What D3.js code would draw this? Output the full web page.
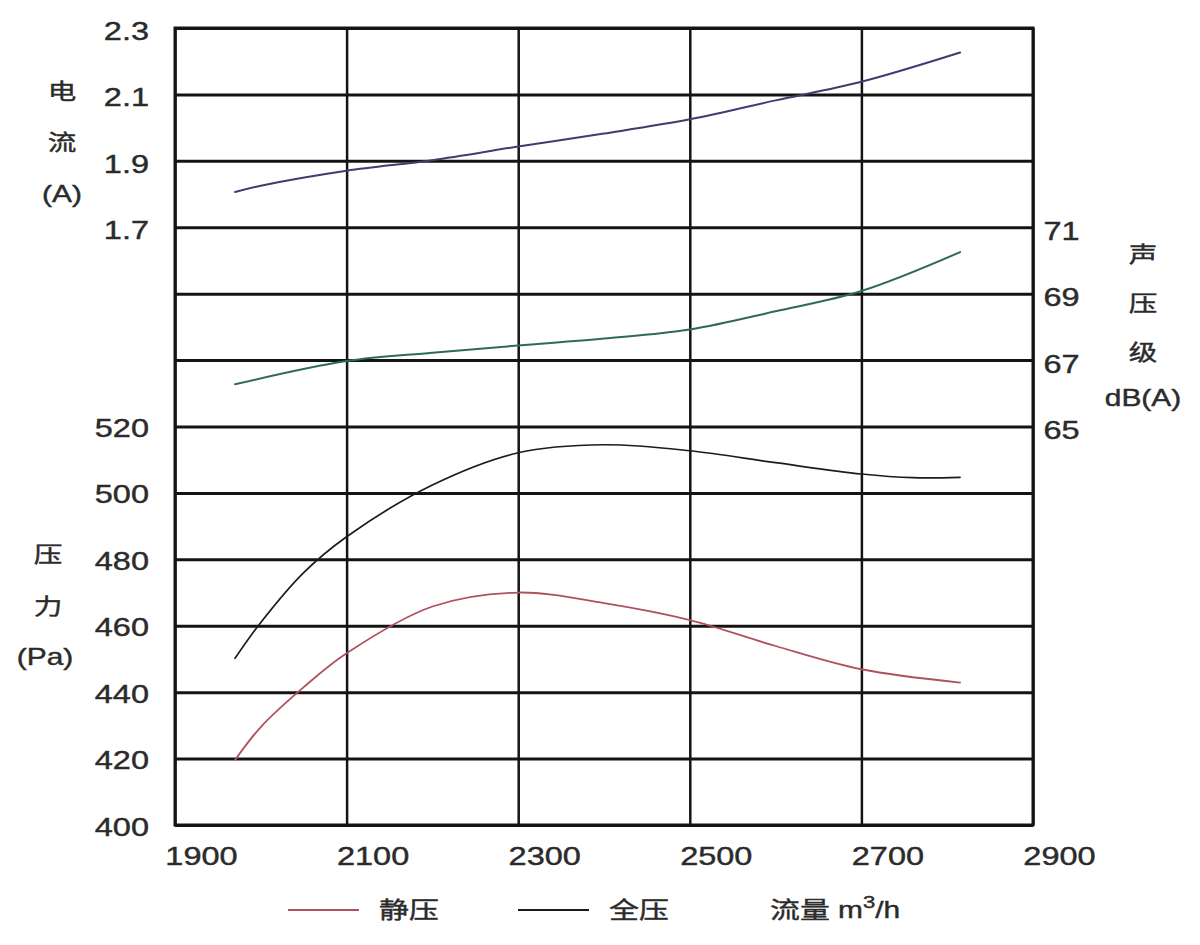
<!DOCTYPE html>
<html>
<head>
<meta charset="utf-8">
<script src="https://cdn.jsdelivr.net/npm/d3@7"></script>
<style>
  body { margin: 0; background: #fff; }
  svg { display: block; }
  text { font-family: "Liberation Sans", Arial, "Noto Sans CJK SC", sans-serif; fill: #2b2b2b; stroke: #2b2b2b; stroke-width: 0.4px; }
</style>
</head>
<body>
<svg id="chart" width="1200" height="945"></svg>
<script>
// axis ticks
var flowTicks = [1900, 2100, 2300, 2500, 2700, 2900];
var pressureTicks = [400, 420, 440, 460, 480, 500, 520];
var currentTicks = [1.7, 1.9, 2.1, 2.3];
var soundTicks = [65, 67, 69, 71];
var gridValues = [400, 420, 440, 460, 480, 500, 520, 540, 560, 580, 600, 620, 640];

// curves
var currentFlow = [1970, 2000, 2100, 2200, 2300, 2400, 2500, 2600, 2700, 2815];
var currentAmp  = [1.806, 1.825, 1.870, 1.902, 1.943, 1.982, 2.025, 2.082, 2.138, 2.226];

var soundFlow = [1970, 2100, 2200, 2300, 2400, 2500, 2600, 2700, 2815];
var soundDb   = [66.27, 66.97, 67.22, 67.44, 67.65, 67.92, 68.47, 69.08, 70.25];

var fullFlow = [1970, 2000, 2050, 2100, 2200, 2300, 2400, 2500, 2600, 2700, 2760, 2815];
var fullPa   = [450.2, 461, 476, 486.8, 502.4, 512.1, 514.5, 512.7, 509.1, 505.7, 504.6, 504.7];

var staticFlow = [1970, 2000, 2050, 2100, 2200, 2300, 2400, 2500, 2600, 2700, 2815];
var staticPa   = [419.6, 429.5, 441.5, 451.7, 465.8, 470.0, 466.8, 461.7, 453.9, 446.9, 442.9];

var plotL = 175, plotR = 1033, plotT = 28, plotB = 825;
var sx = 1.3; // the lettering is wide

var svg = d3.select("#chart");

var x = d3.scaleLinear().domain([1900, 2900]).range([plotL, plotR]);
var yP = d3.scaleLinear().domain([400, 640]).range([plotB, plotT]);
var yI = d3.scaleLinear().domain([1.7, 2.3]).range([yP(580), yP(640)]);
var yS = d3.scaleLinear().domain([65, 71]).range([yP(520), yP(580)]);

// horizontal grid
svg.append("g")
  .attr("transform", "translate(" + plotL + ",0)")
  .call(d3.axisLeft(yP).tickValues(gridValues).tickSize(-(plotR - plotL)).tickFormat(""))
  .call(function(g){
    g.select(".domain").remove();
    g.selectAll("line").attr("stroke", "#141414").attr("stroke-width", 3);
  });

// vertical grid
svg.append("g")
  .attr("transform", "translate(0," + plotB + ")")
  .call(d3.axisBottom(x).tickValues(flowTicks).tickSize(-(plotB - plotT)).tickFormat(""))
  .call(function(g){
    g.select(".domain").remove();
    g.selectAll("line").attr("stroke", "#141414").attr("stroke-width", 2.5);
  });

svg.append("rect")
  .attr("x", plotL).attr("y", plotT)
  .attr("width", plotR - plotL).attr("height", plotB - plotT)
  .attr("fill", "none").attr("stroke", "#141414").attr("stroke-width", 3);

function styleLabels(g, fn) {
  g.select(".domain").remove();
  g.selectAll(".tick line").remove();
  g.selectAll(".tick text")
    .attr("font-size", 25)
    .attr("fill", "#2b2b2b")
    .attr("font-family", "Liberation Sans, Arial, sans-serif")
    .attr("transform", "scale(" + sx + ",1)");
  if (fn) fn(g);
}

// left labels: pressure and current
svg.append("g")
  .attr("transform", "translate(" + plotL + ",0)")
  .call(d3.axisLeft(yP).tickValues(pressureTicks).tickFormat(d3.format("d")))
  .call(styleLabels, function(g){ g.selectAll("text").attr("x", -20).attr("dy", "0.4em"); });

svg.append("g")
  .attr("transform", "translate(" + plotL + ",0)")
  .call(d3.axisLeft(yI).tickValues(currentTicks).tickFormat(d3.format(".1f")))
  .call(styleLabels, function(g){ g.selectAll("text").attr("x", -20).attr("dy", "0.45em"); });

// right labels: sound level
svg.append("g")
  .attr("transform", "translate(" + plotR + ",0)")
  .call(d3.axisRight(yS).tickValues(soundTicks).tickFormat(d3.format("d")))
  .call(styleLabels, function(g){ g.selectAll("text").attr("x", 8).attr("dy", "0.48em"); });

// bottom labels: flow
svg.append("g")
  .attr("transform", "translate(0," + plotB + ")")
  .call(d3.axisBottom(x).tickValues(flowTicks).tickFormat(d3.format("d")))
  .call(styleLabels, function(g){ g.selectAll("text").attr("x", 20).attr("y", 22); });

// curves
function drawCurve(xs, ys, yScale, color, width) {
  var pts = xs.map(function(d, i){ return [d, ys[i]]; });
  var line = d3.line()
    .x(function(d){ return x(d[0]); })
    .y(function(d){ return yScale(d[1]); })
    .curve(d3.curveCatmullRom.alpha(0.5));
  svg.append("path")
    .datum(pts)
    .attr("d", line)
    .attr("fill", "none")
    .attr("stroke", color)
    .attr("stroke-width", width)
    .attr("stroke-linecap", "round");
}

drawCurve(currentFlow, currentAmp, yI, "#3d3d6f", 2);
drawCurve(soundFlow, soundDb, yS, "#2f6a57", 2);
drawCurve(fullFlow, fullPa, yP, "#1c1c1c", 1.7);
drawCurve(staticFlow, staticPa, yP, "#b0505f", 1.8);

// titles
function label(px, py, str, size, anchor) {
  return svg.append("text")
    .attr("transform", "translate(" + px + "," + py + ") scale(" + sx + ",1)")
    .attr("text-anchor", anchor || "middle")
    .attr("dominant-baseline", "central")
    .attr("font-size", size)
    .text(str);
}

label(62, 91, "电", 22);
label(62, 142, "流", 22);
label(62, 194, "(A)", 23);

label(48, 554, "压", 22);
label(48, 606, "力", 22);
label(45, 657, "(Pa)", 23);

label(1143, 254, "声", 22);
label(1143, 303, "压", 22);
label(1143, 352, "级", 22);
label(1143, 398, "dB(A)", 23);

// legend
svg.append("line").attr("x1", 288).attr("x2", 359).attr("y1", 910).attr("y2", 910)
  .attr("stroke", "#b0505f").attr("stroke-width", 2);
label(379, 910, "静压", 23, "start");
svg.append("line").attr("x1", 518).attr("x2", 589).attr("y1", 910).attr("y2", 910)
  .attr("stroke", "#1c1c1c").attr("stroke-width", 2);
label(609, 910, "全压", 23, "start");

var unit = label(770, 910, "流量 m", 23, "start");
unit.append("tspan").attr("font-size", 17).attr("dy", -8).text("3");
unit.append("tspan").attr("dy", 8).text("/h");
</script>
</body>
</html>
